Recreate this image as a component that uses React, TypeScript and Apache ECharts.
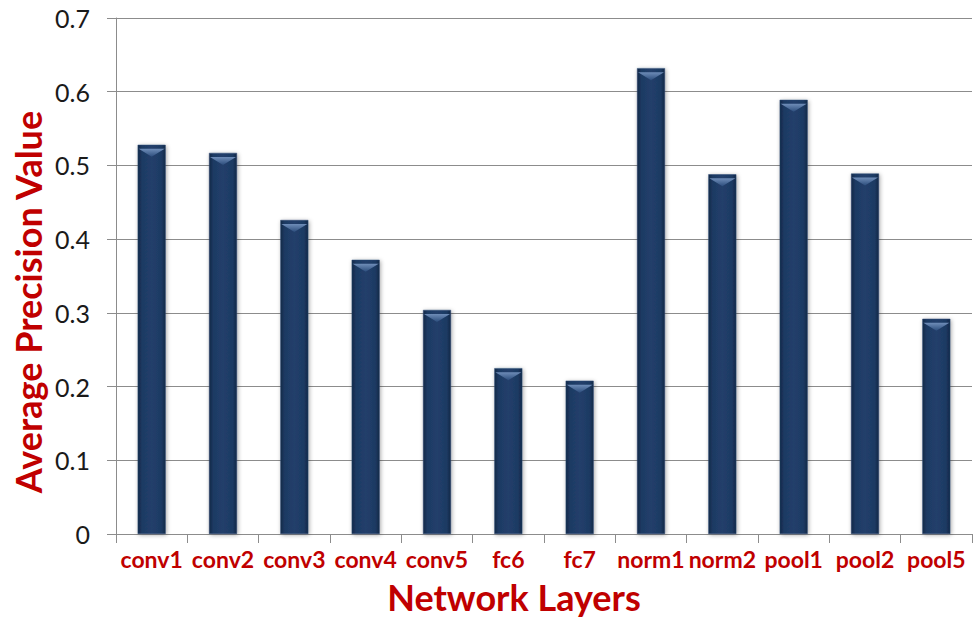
import React, { useEffect, useRef } from "react";
import * as echarts from "echarts";

const categories = ["conv1", "conv2", "conv3", "conv4", "conv5", "fc6", "fc7", "norm1", "norm2", "pool1", "pool2", "pool5"];
const precisionValues = [0.528, 0.517, 0.426, 0.372, 0.304, 0.225, 0.208, 0.632, 0.488, 0.589, 0.489, 0.292];
const yTicks = [0, 0.1, 0.2, 0.3, 0.4, 0.5, 0.6, 0.7];

export default function App() {
  const ref = useRef<HTMLDivElement>(null);
  useEffect(() => {
    if (!ref.current) return;
    const chart = echarts.init(ref.current, null, { renderer: "svg" });
    const red = "#c00000";
    chart.setOption({
      animation: false,
      backgroundColor: "#ffffff",
      grid: { left: 116, right: 6, top: 18, bottom: 85, containLabel: false },
      xAxis: {
        type: "category",
        data: categories,
        boundaryGap: true,
        axisLine: { show: true, lineStyle: { color: "#8c8c8c", width: 1 } },
        axisTick: { show: true, length: 9, alignWithLabel: false, lineStyle: { color: "#8c8c8c" } },
        axisLabel: {
          margin: 13,
          color: red,
          fontFamily: "Lato",
          fontWeight: "bold",
          fontSize: 23,
          interval: 0,
        },
      },
      yAxis: {
        type: "value",
        min: 0,
        max: 0.7,
        interval: 0.1,
        axisLine: { show: true, lineStyle: { color: "#8c8c8c", width: 1 } },
        axisTick: { show: true, length: 9, lineStyle: { color: "#8c8c8c" } },
        splitLine: { show: true, lineStyle: { color: "#8c8c8c", width: 1 } },
        axisLabel: {
          margin: 26,
          color: "#1a1a1a",
          fontFamily: "Lato",
          fontSize: 25,
          formatter: (v: number) => {
            const match = yTicks.find((t) => Math.abs(t - v) < 1e-6);
            return match === 0 ? "0" : String(Math.round(v * 10) / 10);
          },
        },
      },
      graphic: [
        {
          type: "text",
          x: 28,
          y: 302,
          rotation: Math.PI / 2,
          style: {
            text: "Average Precision Value",
            fill: red,
            font: "bold 36px Lato",
            textAlign: "center",
            textVerticalAlign: "middle",
          },
        },
        {
          type: "text",
          x: 514,
          y: 597,
          style: {
            text: "Network Layers",
            fill: red,
            font: "bold 36px Lato",
            textAlign: "center",
            textVerticalAlign: "middle",
          },
        },
      ],
      series: [
        {
          type: "bar",
          data: precisionValues,
          barWidth: 28,
          itemStyle: {
            color: new echarts.graphic.LinearGradient(0, 0, 1, 0, [
              { offset: 0, color: "#132847" },
              { offset: 0.15, color: "#1e3a63" },
              { offset: 0.5, color: "#213f6b" },
              { offset: 0.85, color: "#1e3a63" },
              { offset: 1, color: "#132847" },
            ]),
            borderColor: "#2c4a75",
            borderWidth: 0.5,
            shadowBlur: 4,
            shadowColor: "rgba(0,0,0,0.35)",
            shadowOffsetX: 1,
            shadowOffsetY: 1,
          },
          z: 2,
        },
        {
          type: "pictorialBar",
          data: precisionValues,
          barGap: "-100%",
          barWidth: 28,
          symbol: "path://M0,0 L20,0 L10,6 Z",
          symbolSize: [26, 8],
          symbolPosition: "end",
          symbolOffset: [0, "50%"],
          symbolRepeat: false,
          itemStyle: {
            color: new echarts.graphic.LinearGradient(0, 0, 0, 1, [
              { offset: 0, color: "#6f8db8" },
              { offset: 1, color: "#2c4d7c" },
            ]),
          },
          z: 3,
          silent: true,
        },
      ],
    });
    return () => chart.dispose();
  }, []);
  return <div ref={ref} style={{ position: "fixed", left: 0, top: 0, width: 978, height: 619 }} />;
}
